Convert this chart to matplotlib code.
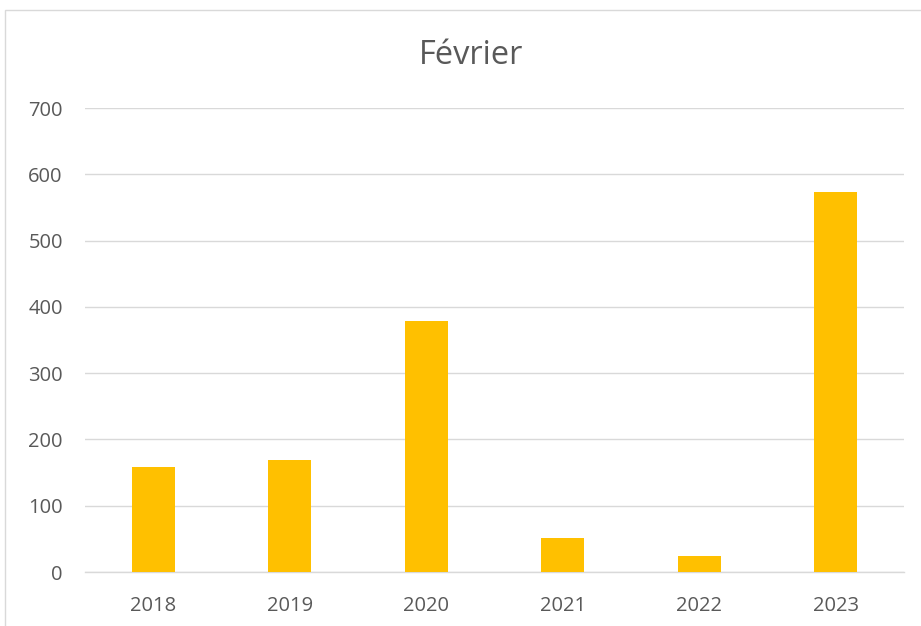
import matplotlib
matplotlib.use("Agg")
import matplotlib.pyplot as plt
from matplotlib.patches import Rectangle

annees = ["2018", "2019", "2020", "2021", "2022", "2023"]
valeurs = [158, 169, 379, 52, 24, 573]
graduations = [0, 100, 200, 300, 400, 500, 600, 700]

plt.rcParams['font.family'] = ['Open Sans', 'DejaVu Sans']

fig = plt.figure(figsize=(9.21, 6.26), dpi=100)
ax = fig.add_axes([85 / 921, 1 - 572 / 626, 819 / 921, 464 / 626])

x = range(len(annees))
ax.bar(x, valeurs, width=0.313, color="#FFC000", zorder=3)

ax.set_xlim(-0.5, len(annees) - 0.5)
ax.set_ylim(0, 700)
ax.set_yticks(graduations)
ax.set_xticks(list(x))
ax.set_xticklabels(annees)

ax.grid(axis="y", color="#D9D9D9", linewidth=1.0, zorder=0)
for s in ["top", "right", "left"]:
    ax.spines[s].set_visible(False)
ax.spines["bottom"].set_color("#D9D9D9")
ax.spines["bottom"].set_linewidth(1.0)
ax.tick_params(axis="both", length=0, labelsize=14.5, labelcolor="#595959")
ax.tick_params(axis="y", pad=16)
ax.tick_params(axis="x", pad=17)

fig.text(0.512, 1 - 56 / 626, "Février", ha="center", va="center",
         fontsize=23.5, color="#595959")

# cadre du graphique
haut = 1 - 10 / 626
fig.add_artist(Rectangle((5 / 921, -0.1), 1.2, haut + 0.1,
                         transform=fig.transFigure, fill=False,
                         edgecolor="#D9D9D9", linewidth=1.0))

fig.savefig("out.png", dpi=100)
